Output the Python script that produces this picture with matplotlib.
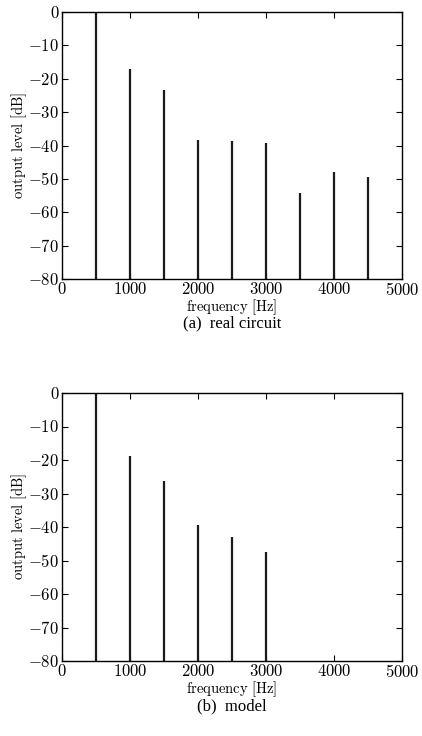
import matplotlib
matplotlib.use("Agg")
from matplotlib import pyplot as plt
from matplotlib.ticker import FuncFormatter

plt.rcParams['mathtext.fontset'] = 'cm'
plt.rcParams['font.family'] = 'serif'
plt.rcParams['font.serif'] = ['Liberation Serif', 'DejaVu Serif']

# harmonic levels
freq_real = [500, 1000, 1500, 2000, 2500, 3000, 3500, 4000, 4500]
level_real = [0, -17.0, -23.5, -38.5, -38.7, -39.2, -54.2, -48.0, -49.5]

freq_model = [500, 1000, 1500, 2000, 2500, 3000]
level_model = [0, -18.8, -26.2, -39.3, -43.1, -47.5]

xticks = [0, 1000, 2000, 3000, 4000, 5000]
yticks = [0, -10, -20, -30, -40, -50, -60, -70, -80]

fig = plt.figure(figsize=(4.22, 7.36), dpi=100)

W, H = 422, 736
ax1 = fig.add_axes([62 / W, 1 - 279 / H, 340 / W, 267 / H])
ax2 = fig.add_axes([62 / W, 1 - 661 / H, 340 / W, 268 / H])

fmt = FuncFormatter(lambda v, p: r'$%d$' % v)

for ax, f, l, cap in [(ax1, freq_real, level_real, '(a)  real circuit'),
                      (ax2, freq_model, level_model, '(b)  model')]:
    ax.vlines(f, -80, l, color='#1a1a1a', lw=1.6)
    ax.set_xlim(0, 5000)
    ax.set_ylim(-80, 0)
    ax.set_xticks(xticks)
    ax.set_yticks(yticks)
    ax.xaxis.set_major_formatter(fmt)
    ax.yaxis.set_major_formatter(fmt)
    ax.tick_params(direction='in', top=True, right=True, labelsize=12,
                   length=4, width=0.8, pad=2)
    for s in ax.spines.values():
        s.set_linewidth(1.0)
    ax.set_xlabel(r'$\mathrm{frequency\ [Hz]}$', fontsize=10.5)
    ax.xaxis.set_label_coords(0.5, -0.07)
    ax.set_ylabel(r'$\mathrm{output\ level\ [dB]}$', fontsize=10.5)
    ax.yaxis.set_label_coords(-0.097, 0.5)
    ax.text(0.5, -0.138, cap, transform=ax.transAxes, ha='center', va='top',
            fontsize=12)

fig.savefig('out.png', dpi=100)
